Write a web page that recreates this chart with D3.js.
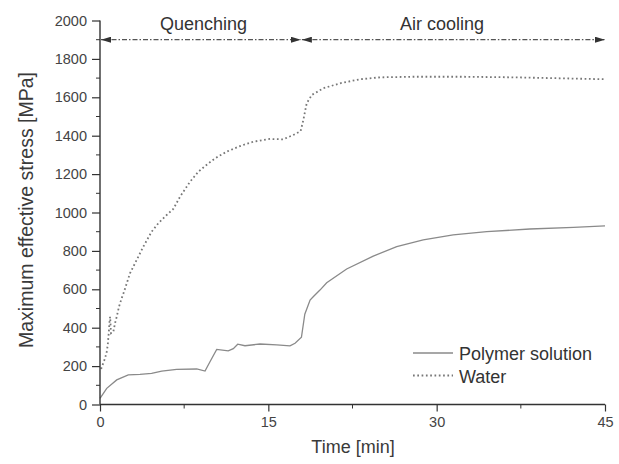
<!DOCTYPE html>
<html><head><meta charset="utf-8">
<script src="https://cdn.jsdelivr.net/npm/d3@7"></script>
<style>body{margin:0;background:#fff}svg{display:block}text{font-family:"Liberation Sans",Arial,sans-serif}</style>
</head><body>
<script>
const polymerTime   = [0,0.6,1.49,2.52,3.56,4.6,5.5,6.83,8.62,9.36,9.8,10.4,11.43,11.88,12.27,12.92,14.26,15.75,16.93,17.38,17.95,18.25,18.72,19.0,19.6,20.2,21.98,24.35,26.44,28.8,31.47,34.46,38.3,42.2,45];
const polymerStress = [32,84,128,154,157,162,174,183,185,174,223,287,279,291,314,306,315,311,305,319,350,470,544,561,596,634,706,773,822,857,883,900,914,923,930];
const waterTime   = [0.1,0.45,0.6,0.69,0.74,0.8,0.85,0.9,0.98,1.19,1.34,1.49,1.69,1.93,2.14,2.67,3.27,3.86,4.6,5.2,5.94,6.53,7.13,8.02,8.76,9.36,10.25,11.29,12.48,13.66,15.15,16.33,17.23,17.88,18.12,18.42,18.87,19.9,21.39,23.17,24.95,27.92,32.37,36.83,40.99,45];
const waterStress = [185,241,275,310,345,388,431,457,371,379,423,457,509,553,587,683,753,822,900,944,987,1018,1082,1160,1212,1242,1282,1317,1346,1369,1383,1381,1404,1424,1482,1569,1612,1647,1673,1694,1704,1707,1707,1704,1699,1694];
const xTicks = [0,15,30,45];
const xMinor = [7.5,22.5,37.5];
const yTicks = [0,200,400,600,800,1000,1200,1400,1600,1800,2000];
const yMinor = [100,300,500,700,900,1100,1300,1500,1700,1900];
const phases = [{label:"Quenching", from:0, to:17.9},{label:"Air cooling", from:17.9, to:45}];
const phaseLevel = 1900;
const seriesNames = ["Polymer solution","Water"];

const W=619,H=464;
const svg=d3.select("body").append("svg").attr("width",W).attr("height",H);
const x=d3.scaleLinear().domain([0,45]).range([100,605]);
const y=d3.scaleLinear().domain([0,2000]).range([404.5,20.5]);
const axisCol="#333";

// series
const line=d3.line().x(d=>x(d[0])).y(d=>y(d[1]));
svg.append("path").datum(polymerTime.map((t,i)=>[t,polymerStress[i]]))
  .attr("d",line).attr("fill","none").attr("stroke","#8a8a8a").attr("stroke-width",1.3);
svg.append("path").datum(waterTime.map((t,i)=>[t,waterStress[i]]))
  .attr("d",line).attr("fill","none").attr("stroke","#777").attr("stroke-width",1.8).attr("stroke-dasharray","1.7,2.6");

// axes
const xAxis=d3.axisBottom(x).tickValues(xTicks).tickSize(7).tickPadding(5).tickFormat(d3.format("d"));
const gx=svg.append("g").attr("transform",`translate(0,${y(0)})`).call(xAxis);
gx.append("g").selectAll("line").data(xMinor).join("line").attr("x1",d=>x(d)).attr("x2",d=>x(d)).attr("y1",0).attr("y2",4).attr("stroke",axisCol);
const yAxis=d3.axisLeft(y).tickValues(yTicks).tickSize(8).tickPadding(5).tickFormat(d3.format("d"));
const gy=svg.append("g").attr("transform",`translate(${x(0)},0)`).call(yAxis);
gy.append("g").selectAll("line").data(yMinor).join("line").attr("y1",d=>y(d)).attr("y2",d=>y(d)).attr("x1",0).attr("x2",-4).attr("stroke",axisCol);
[gx,gy].forEach(g=>{
  g.select(".domain").attr("stroke",axisCol).attr("stroke-width",1.4);
  g.selectAll(".tick line").attr("stroke",axisCol).attr("stroke-width",1.2);
  g.selectAll(".tick text").attr("font-size",14.5).attr("fill","#444").style("font-family","'Liberation Sans',Arial,sans-serif");
});
gx.select(".domain").attr("d",`M${x(0)},0H${x(45)}`);
gy.select(".domain").attr("d",`M0,${y(0)}V${y(2000)}`);

// titles
svg.append("text").attr("x",353).attr("y",453).attr("text-anchor","middle").attr("font-size",18).attr("fill","#3a3a3a").text("Time [min]");
svg.append("text").attr("transform",`translate(33,210) rotate(-90)`).attr("text-anchor","middle").attr("font-size",19.5).attr("fill","#3a3a3a").text("Maximum effective stress [MPa]");

// phase arrows
const defs=svg.append("defs");
defs.append("marker").attr("id","ah").attr("viewBox","0 0 10 6").attr("refX",10).attr("refY",3)
  .attr("markerWidth",10).attr("markerHeight",6).attr("markerUnits","userSpaceOnUse").attr("orient","auto-start-reverse")
  .append("path").attr("d","M0,0L10,3L0,6Z").attr("fill","#333");
phases.forEach(p=>{
  svg.append("line").attr("x1",x(p.from)+1).attr("x2",x(p.to)).attr("y1",y(phaseLevel)).attr("y2",y(phaseLevel))
    .attr("stroke","#555").attr("stroke-width",1.2).attr("stroke-dasharray","5,2,1.5,2")
    .attr("marker-start","url(#ah)").attr("marker-end","url(#ah)");
  svg.append("text").attr("x",x((p.from+p.to)/2)+(p.from===0?3:-11)).attr("y",30).attr("text-anchor","middle")
    .attr("font-size",18).attr("fill","#333").text(p.label);
});

// legend
const lg=svg.append("g");
lg.append("line").attr("x1",413).attr("x2",453).attr("y1",353).attr("y2",353).attr("stroke","#8a8a8a").attr("stroke-width",1.3);
lg.append("line").attr("x1",413).attr("x2",453).attr("y1",375.5).attr("y2",375.5).attr("stroke","#777").attr("stroke-width",1.8).attr("stroke-dasharray","1.7,2.6");
lg.append("text").attr("x",459).attr("y",359.5).attr("font-size",18).attr("fill","#333").text(seriesNames[0]);
lg.append("text").attr("x",459).attr("y",382.5).attr("font-size",18).attr("fill","#333").text(seriesNames[1]);
</script>
</body></html>
